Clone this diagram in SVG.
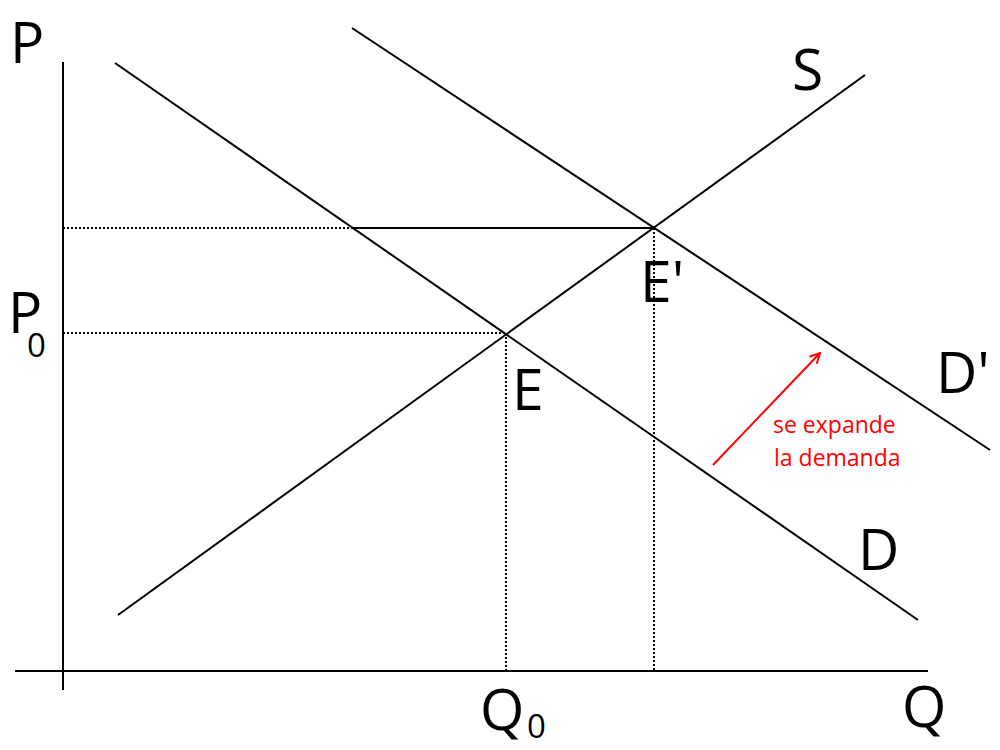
<svg xmlns="http://www.w3.org/2000/svg" width="1000" height="750" viewBox="0 0 1000 750">
<style>
.ln{stroke:#000;stroke-width:2;fill:none}
.dot{stroke:#000;stroke-width:2;stroke-dasharray:2 2;fill:none}
.lbl{font-family:"Open Sans","Liberation Sans",sans-serif;font-size:57px;fill:#000}
.sub{font-size:33px}
.red{font-family:"Open Sans","Liberation Sans",sans-serif;font-size:23px;fill:#ff0000}
</style>
<defs>
<marker id="ah" viewBox="0 0 12 12" refX="11" refY="6" markerWidth="12" markerHeight="12" markerUnits="userSpaceOnUse" orient="auto">
<path d="M1,1 L11,6 L1,11" fill="none" stroke="#ff0000" stroke-width="2"/>
</marker>
</defs>
<rect width="1000" height="750" fill="#fff"/>
<g id="axes">
<line class="ln" x1="63" y1="62" x2="63" y2="690"/>
<line class="ln" x1="15" y1="671" x2="928" y2="671"/>
<text class="lbl" x="10" y="63">P</text>
<text class="lbl" x="902" y="727">Q</text>
</g>
<g id="connectors">
<line class="ln" x1="115" y1="63" x2="918" y2="620"/>
<line class="ln" x1="352" y1="28" x2="990" y2="450"/>
<line class="ln" x1="118" y1="615" x2="865" y2="75"/>
<line class="ln" x1="352" y1="228" x2="654" y2="228"/>
<line class="dot" x1="63" y1="228" x2="352" y2="228"/>
<line class="dot" x1="63" y1="333" x2="506" y2="333"/>
<line class="dot" x1="506" y1="333" x2="506" y2="671"/>
<line class="dot" x1="654" y1="228" x2="654" y2="671"/>
<line x1="713" y1="465" x2="820" y2="353" stroke="#ff0000" stroke-width="2" marker-end="url(#ah)"/>
</g>
<g id="S"><text class="lbl" x="792" y="90">S</text></g>
<g id="D"><text class="lbl" x="858" y="570">D</text></g>
<g id="Dprime"><text class="lbl" x="936" y="393">D'</text></g>
<g id="E"><text class="lbl" x="512" y="410">E</text></g>
<g id="Eprime"><text class="lbl" x="640" y="302">E'</text></g>
<g id="P0"><text class="lbl" x="8" y="333">P<tspan class="sub" x="27" y="357">0</tspan></text></g>
<g id="Q0"><text class="lbl" x="480" y="730">Q<tspan class="sub" x="527" y="738">0</tspan></text></g>
<g id="note">
<text class="red" x="773" y="433">se expande</text>
<text class="red" x="774" y="466">la demanda</text>
</g>
</svg>
